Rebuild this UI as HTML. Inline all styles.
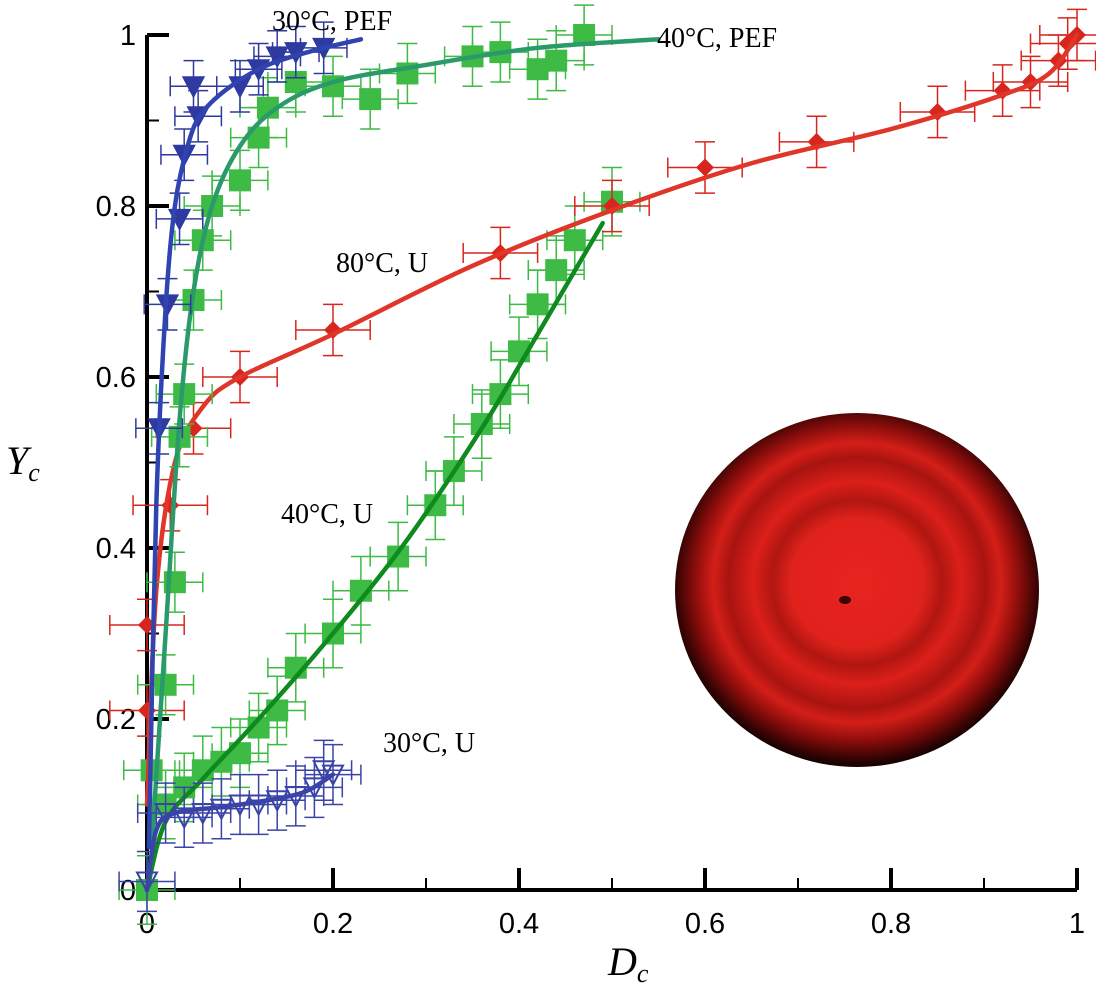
<!DOCTYPE html>
<html><head><meta charset="utf-8"><style>
body{margin:0;background:#fff}
svg text{font-family:"Liberation Serif",serif}
</style></head><body>
<svg id="c" width="1096" height="1000" xmlns="http://www.w3.org/2000/svg">
<defs>
<radialGradient id="beet" cx="50%" cy="48%" r="52%">
<stop offset="0" stop-color="#e8231e"/>
<stop offset="0.35" stop-color="#e0221c"/>
<stop offset="0.45" stop-color="#b01610"/>
<stop offset="0.55" stop-color="#dc1f1a"/>
<stop offset="0.68" stop-color="#a81410"/>
<stop offset="0.76" stop-color="#d41e18"/>
<stop offset="0.86" stop-color="#8a0d0b"/>
<stop offset="0.95" stop-color="#3a0404"/>
<stop offset="1" stop-color="#120101"/>
</radialGradient>
</defs>
<g>
<ellipse cx="857" cy="590" rx="182" ry="177" fill="url(#beet)"/>
<ellipse cx="845" cy="600" rx="6" ry="4" fill="#3a0505"/>
</g>
<g id="axes"></g>
<g id="plot"></g>
<text x="608" y="975" font-size="40" font-style="italic">D<tspan font-size="26" dy="7">c</tspan></text>
<text x="6" y="474" font-size="40" font-style="italic">Y<tspan font-size="26" dy="7">c</tspan></text>
<text x="272" y="30" font-size="28">30°C, PEF</text>
<text x="657" y="47" font-size="28">40°C, PEF</text>
<text x="336" y="272" font-size="28">80°C, U</text>
<text x="281" y="523" font-size="28">40°C, U</text>
<text x="383" y="752" font-size="28">30°C, U</text>
</svg>
<script>
const xTicks=[0,0.2,0.4,0.6,0.8,1];
const xTickLabels=["0","0.2","0.4","0.6","0.8","1"];
const yTicks=[0,0.2,0.4,0.6,0.8,1];
const yTickLabels=["0","0.2","0.4","0.6","0.8","1"];
// 30C PEF
const pef30X=[0.013,0.022,0.035,0.04,0.055,0.05,0.1,0.12,0.14,0.16,0.19];
const pef30Y=[0.54,0.685,0.785,0.86,0.905,0.94,0.94,0.96,0.975,0.98,0.985];
const pef30FitX=[0.002,0.01,0.02,0.03,0.045,0.06,0.09,0.13,0.18,0.23];
const pef30FitY=[0.05,0.45,0.68,0.80,0.875,0.91,0.94,0.965,0.982,0.995];
// 40C PEF
const pef40X=[0.02,0.03,0.035,0.04,0.05,0.06,0.07,0.1,0.12,0.13,0.16,0.2,0.24,0.28,0.35,0.38,0.42,0.44,0.47];
const pef40Y=[0.24,0.36,0.53,0.58,0.69,0.76,0.8,0.83,0.88,0.915,0.945,0.94,0.925,0.955,0.975,0.98,0.96,0.97,1.0];
const pef40FitX=[0.005,0.02,0.035,0.05,0.07,0.1,0.14,0.2,0.3,0.42,0.55];
const pef40FitY=[0.05,0.3,0.55,0.7,0.8,0.87,0.915,0.945,0.965,0.985,0.995];
// 80C U
const u80X=[0.0,0.0,0.025,0.05,0.1,0.2,0.38,0.5,0.6,0.72,0.85,0.92,0.95,0.98,0.99,1.0];
const u80Y=[0.21,0.31,0.45,0.54,0.6,0.655,0.745,0.8,0.845,0.875,0.91,0.935,0.945,0.97,0.99,1.0];
const u80FitX=[0.0,0.01,0.03,0.06,0.1,0.2,0.35,0.5,0.65,0.8,0.92,0.97,1.0];
const u80FitY=[0.1,0.35,0.5,0.565,0.6,0.65,0.73,0.795,0.85,0.89,0.93,0.955,1.0];
// 40C U
const u40X=[0.0,0.005,0.02,0.04,0.06,0.08,0.1,0.12,0.14,0.16,0.2,0.23,0.27,0.31,0.33,0.36,0.38,0.4,0.42,0.44,0.46,0.5];
const u40Y=[0.0,0.14,0.1,0.12,0.14,0.15,0.16,0.19,0.21,0.26,0.3,0.35,0.39,0.45,0.49,0.545,0.58,0.63,0.685,0.725,0.76,0.805];
const u40FitX=[0.0,0.02,0.06,0.12,0.2,0.28,0.36,0.42,0.49];
const u40FitY=[0.0,0.08,0.13,0.2,0.3,0.41,0.54,0.65,0.78];
// 30C U
const u30X=[0,0.02,0.04,0.06,0.08,0.1,0.12,0.14,0.16,0.18,0.2,0.19];
const u30Y=[0.01,0.09,0.085,0.09,0.095,0.1,0.1,0.105,0.11,0.12,0.135,0.14];
const u30FitX=[0.0,0.01,0.03,0.08,0.13,0.17,0.2];
const u30FitY=[0.0,0.07,0.09,0.097,0.105,0.115,0.135];

const X0=147,X1=1077,Y0=890,Y1=35;
const sx=v=>X0+v*(X1-X0), sy=v=>Y0-v*(Y0-Y1);
const NS="http://www.w3.org/2000/svg";
function mk(tag,attrs,parent){const e=document.createElementNS(NS,tag);for(const k in attrs)e.setAttribute(k,attrs[k]);parent.appendChild(e);return e;}
const axes=document.getElementById('axes'), plot=document.getElementById('plot');
let a=mk('path',{d:`M${X0} ${Y1}V${Y0}H${X1}`,stroke:'#000','stroke-width':4,fill:'none'},axes);


for(let i=0;i<=10;i++){const v=i/10,maj=i%2==0;
 let t=mk('line',{x1:sx(v),x2:sx(v),y1:Y0,y2:Y0-(maj?22:12),stroke:'#000','stroke-width':maj?4:2},axes);
 
 
 let u=mk('line',{x1:X0,x2:X0+(maj?22:12),y1:sy(v),y2:sy(v),stroke:'#000','stroke-width':maj?4:2},axes);
 
 }
xTicks.forEach((v,i)=>{let t=mk('text',{x:sx(v),y:933,'font-size':29,'text-anchor':'middle',style:'font-family:"Liberation Sans",sans-serif'},axes);t.textContent=xTickLabels[i];
 
 });
yTicks.forEach((v,i)=>{let t=mk('text',{x:136,y:sy(v)+10,'font-size':29,'text-anchor':'end',style:'font-family:"Liberation Sans",sans-serif'},axes);t.textContent=yTickLabels[i];
 
 });

function smooth(xs,ys){const p=xs.map((x,i)=>[sx(x),sy(ys[i])]);let d=`M${p[0][0]} ${p[0][1]}`;
 for(let i=0;i<p.length-1;i++){const p0=p[Math.max(0,i-1)],p1=p[i],p2=p[i+1],p3=p[Math.min(p.length-1,i+2)];
 d+=`C${p1[0]+(p2[0]-p0[0])/6} ${p1[1]+(p2[1]-p0[1])/6},${p2[0]-(p3[0]-p1[0])/6} ${p2[1]-(p3[1]-p1[1])/6},${p2[0]} ${p2[1]}`;}return d;}
function marker(shape,x,y,col,fill,g){const cx=sx(x),cy=sy(y);let m;
 if(shape=='tri') m=mk('path',{d:`M${cx-10} ${cy-9}H${cx+10}L${cx} ${cy+10}Z`,fill:fill?col:'none',stroke:col,'stroke-width':2},g);
 else if(shape=='sq') m=mk('rect',{x:cx-10,y:cy-10,width:20,height:20,fill:fill?col:'none',stroke:col,'stroke-width':2},g);
 else m=mk('path',{d:`M${cx} ${cy-9}L${cx+9} ${cy}L${cx} ${cy+9}L${cx-9} ${cy}Z`,fill:col},g);
 return m;}
function series(name,xs,ys,fx,fy,col,lineCol,shape,fill,ex,ey){
 const g=mk('g',{},plot);
 
 
 xs.forEach((x,i)=>{const cx=sx(x),cy=sy(ys[i]);
  let e=mk('path',{d:`M${sx(x-ex)} ${cy}H${sx(x+ex)}M${cx} ${sy(ys[i]-ey)}V${sy(ys[i]+ey)}M${sx(x-ex)} ${cy-10}v20M${sx(x+ex)} ${cy-10}v20M${cx-10} ${sy(ys[i]-ey)}h20M${cx-10} ${sy(ys[i]+ey)}h20`,stroke:col,'stroke-width':1.5,fill:'none'},g);
  
  
  const m=marker(shape,x,ys[i],col,fill,g);
  
  });
 const l=mk('path',{d:smooth(fx,fy),stroke:lineCol,'stroke-width':4.5,fill:'none','stroke-linecap':'round'},g);
 
 }
series('series-40c-u',u40X,u40Y,u40FitX,u40FitY,'#3dbb45','#0e8a1e','sq',true,0.03,0.04);
series('series-80c-u',u80X,u80Y,u80FitX,u80FitY,'#d8261e','#e0362a','dia',true,0.04,0.03);
series('series-40c-pef',pef40X,pef40Y,pef40FitX,pef40FitY,'#3dbb45','#2a9a6a','sq',true,0.03,0.035);
series('series-30c-u',u30X,u30Y,u30FitX,u30FitY,'#3a44a8','#3a44a8','tri',false,0.03,0.035);
series('series-30c-pef',pef30X,pef30Y,pef30FitX,pef30FitY,'#2f3aa0','#2f44b0','tri',true,0.025,0.03);
</script>
</body></html>
